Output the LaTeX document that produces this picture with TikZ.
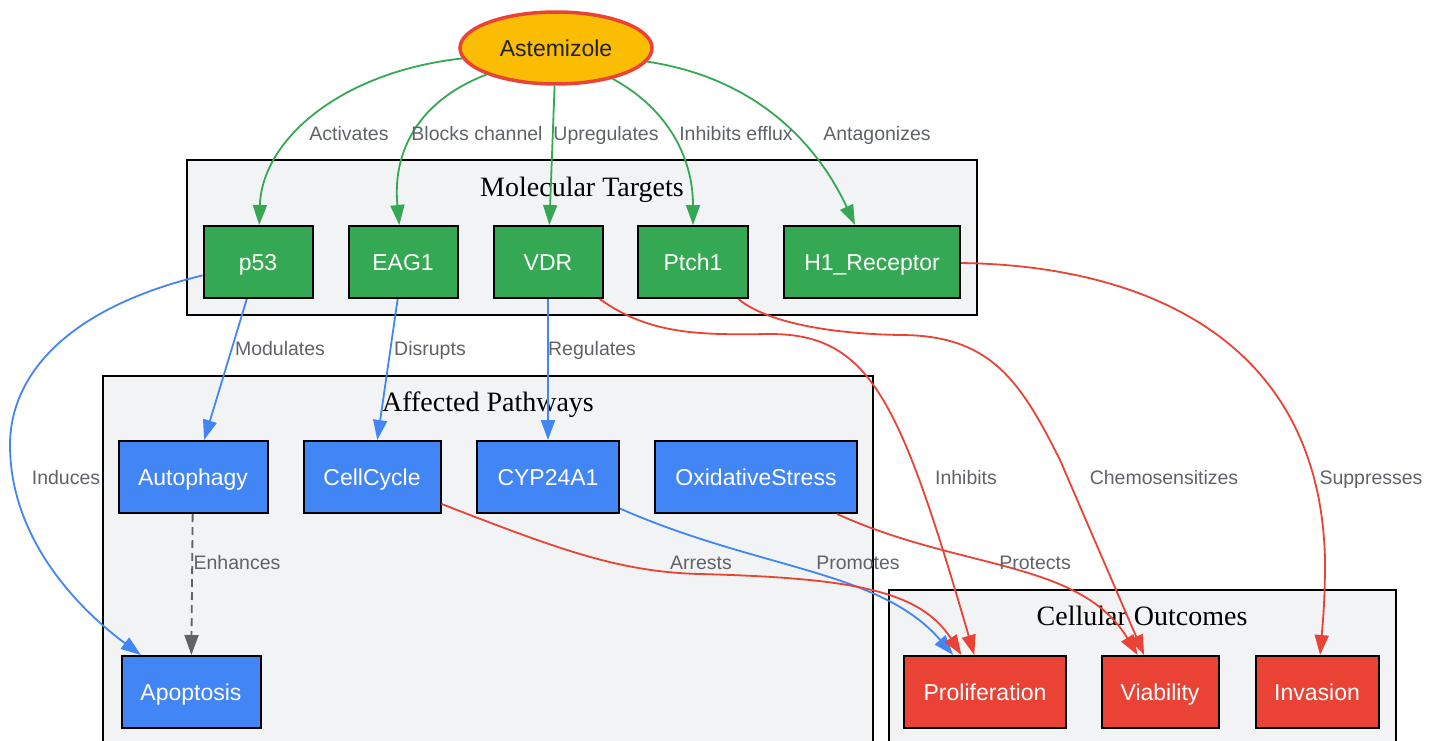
\documentclass[tikz,border=0pt]{standalone}
\usepackage{fontspec}
\setmainfont{Liberation Sans}
\newfontfamily\titlefont{Liberation Serif}
\usetikzlibrary{arrows.meta,shapes.geometric}
\definecolor{gGreen}{HTML}{34A853}
\definecolor{gBlue}{HTML}{4285F4}
\definecolor{gRed}{HTML}{EA4335}
\definecolor{gYellow}{HTML}{FBBC04}
\definecolor{gGray}{HTML}{5F6368}
\definecolor{clFill}{HTML}{F1F3F4}
\definecolor{gDark}{HTML}{202124}
\tikzset{
  box/.style={draw=black, line width=2pt, text=white, minimum height=72pt, inner sep=0pt,
    text height=16.5pt, text depth=0pt, font=\fontsize{23}{27}\selectfont},
  tgt/.style={box, fill=gGreen},
  pw/.style={box, fill=gBlue},
  oc/.style={box, fill=gRed},
  cluster/.style={draw=black, line width=1.8pt, fill=clFill},
  ctitle/.style={font=\titlefont\fontsize{28}{32}\selectfont, text=black, inner sep=0pt,
    text height=18.5pt, text depth=0pt},
  lbl/.style={font=\fontsize{19.5}{23}\selectfont, text=gGray, inner sep=0pt,
    text height=14pt, text depth=0pt},
  edge/.style={line width=1.8pt, -{Triangle[length=20pt,width=14pt]}},
  ge/.style={edge, draw=gGreen},
  be/.style={edge, draw=gBlue},
  re/.style={edge, draw=gRed},
  de/.style={edge, draw=gGray, dash pattern=on 8pt off 5pt},
}
\begin{document}
\begin{tikzpicture}[x=1pt,y=-1pt]
\useasboundingbox (0,0) rectangle (1442,741);
\clip (0,0) rectangle (1442,741);
\fill[white] (0,0) rectangle (1442,741);

% clusters
\draw[cluster] (187,160) rectangle (977,315);
\draw[cluster] (103,376) rectangle (873,760);
\draw[cluster] (889,590) rectangle (1396,760);
\node[ctitle] (tMol) at (582,187) {Molecular Targets};
\node[ctitle] (tAff) at (488,402) {Affected Pathways};
\node[ctitle] (tOut) at (1142,616) {Cellular Outcomes};

% nodes
\node[ellipse, draw=gRed, line width=3.5pt, fill=gYellow, text=gDark,
  minimum width=192pt, minimum height=72pt, inner sep=0pt,
  text height=16.5pt, text depth=0pt,
  font=\fontsize{23}{27}\selectfont] (ast) at (556,48) {Astemizole};

\node[tgt, minimum width=109pt] (p53) at (258,262) {p53};
\node[tgt, minimum width=109pt] (eag) at (403,262) {EAG1};
\node[tgt, minimum width=109pt] (vdr) at (548,262) {VDR};
\node[tgt, minimum width=110pt] (ptch) at (693,262) {Ptch1};
\node[tgt, minimum width=176pt] (h1) at (872,262) {H1\_Receptor};

\node[pw, minimum width=149pt] (auto) at (193,477) {Autophagy};
\node[pw, minimum width=137pt] (cc) at (372,477) {CellCycle};
\node[pw, minimum width=142pt] (cyp) at (548,477) {CYP24A1};
\node[pw, minimum width=202pt] (ox) at (756,477) {OxidativeStress};
\node[pw, minimum width=139pt] (apo) at (191,692) {Apoptosis};

\node[oc, minimum width=162pt] (prol) at (985,692) {Proliferation};
\node[oc, minimum width=117pt] (via) at (1160,692) {Viability};
\node[oc, minimum width=123pt] (inv) at (1317,692) {Invasion};

% green edges
\draw[ge] (ast) .. controls (340,72) and (262,140) .. (p53);
\draw[ge] (ast) .. controls (420,100) and (392,150) .. (eag);
\draw[ge] (ast) -- (vdr);
\draw[ge] (ast) .. controls (670,110) and (693,160) .. (ptch);
\draw[ge] (ast) .. controls (770,80) and (825,160) .. (h1);

% blue edges
\draw[be] (p53) -- (auto);
\draw[be] (eag) -- (cc);
\draw[be] (vdr) -- (cyp);
\draw[be] (p53) .. controls (60,310) and (10,380) .. (10,445)
  .. controls (10,540) and (80,610) .. (apo);
\draw[de] (auto) -- (apo);
\draw[be] (cyp) .. controls (760,570) and (880,570) .. (prol);

% red edges
\draw[re] (cc) .. controls (560,550) and (620,572) .. (700,574)
  .. controls (850,578) and (920,590) .. (prol);
\draw[re] (ox) .. controls (960,570) and (1080,560) .. (via);
\draw[re] (vdr) .. controls (650,335) and (700,335) .. (770,334)
  .. controls (870,334) and (900,400) .. (prol);
\draw[re] (ptch) .. controls (770,325) and (840,334) .. (900,335)
  .. controls (990,335) and (1020,380) .. (1060,460) -- (via);
\draw[re] (h1) .. controls (1130,265) and (1320,330) .. (1325,560)
  .. controls (1325,600) and (1323,620) .. (inv);

% labels
\node[lbl] (lAct) at (349,133) {Activates};
\node[lbl] (lBlk) at (477,133) {Blocks channel};
\node[lbl] (lUp) at (606,133) {Upregulates};
\node[lbl] (lEff) at (736,133) {Inhibits efflux};
\node[lbl] (lAnt) at (877,133) {Antagonizes};
\node[lbl] (lMod) at (280,348) {Modulates};
\node[lbl] (lDis) at (430,348) {Disrupts};
\node[lbl] (lReg) at (592,348) {Regulates};
\node[lbl] (lInd) at (66,477) {Induces};
\node[lbl] (lEnh) at (237,562) {Enhances};
\node[lbl] (lArr) at (701,562) {Arrests};
\node[lbl] (lPro) at (858,562) {Promotes};
\node[lbl] (lPrt) at (1035,562) {Protects};
\node[lbl] (lInh) at (966,477) {Inhibits};
\node[lbl] (lChe) at (1164,477) {Chemosensitizes};
\node[lbl] (lSup) at (1371,477) {Suppresses};
\end{tikzpicture}
\end{document}
